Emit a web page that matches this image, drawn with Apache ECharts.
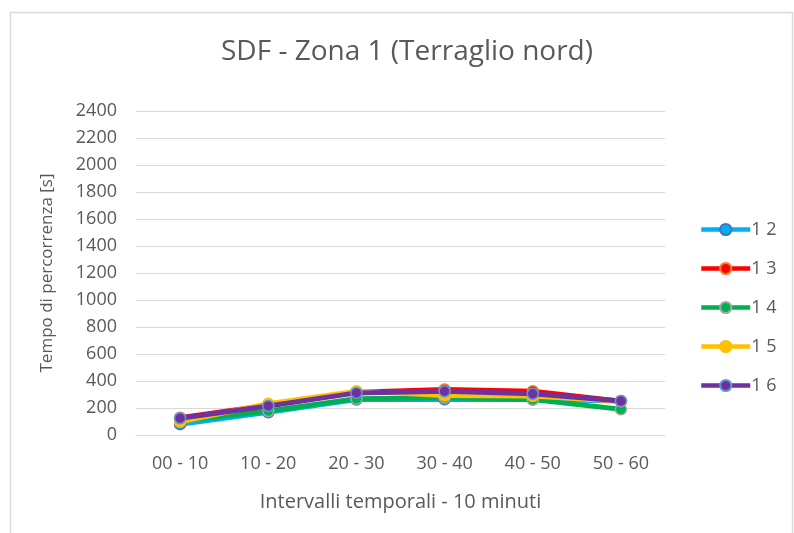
<!DOCTYPE html>
<html><head><meta charset="utf-8">
<script src="https://cdn.jsdelivr.net/npm/echarts@6/dist/echarts.min.js"></script>
<style>html,body{margin:0;padding:0;background:#fff}#c{width:794px;height:533px}</style>
</head><body><div id="c"></div>
<script>
const categories = ['00 - 10','10 - 20','20 - 30','30 - 40','40 - 50','50 - 60'];
const seriesNames = ['1 2','1 3','1 4','1 5','1 6'];
const s12 = [80, 168, 263, 265, 263, 252];
const s13 = [128, 220, 317, 337, 324, 250];
const s14 = [104, 178, 268, 276, 262, 190];
const s15 = [98, 232, 325, 293, 288, 250];
const s16 = [124, 215, 312, 324, 305, 251];
const yTicks = [0, 2400, 200];

const lineColors = ['#00B0F0', '#FF0000', '#00B050', '#FFC000', '#7030A0'];
const borderColors = ['#4472C4', '#ED7D31', '#A5A5A5', '#FFC000', '#5B9BD5'];
const data = [s12, s13, s14, s15, s16];
const font = '"Open Sans", "Liberation Sans", sans-serif';

const chart = echarts.init(document.getElementById('c'), null, {renderer: 'canvas'});
chart.setOption({
  animation: false,
  backgroundColor: '#fff',
  graphic: [{type: 'rect', left: 8, top: 10, shape: {width: 782, height: 522},
    style: {fill: 'none', stroke: '#D9D9D9', lineWidth: 1.5}, silent: true}],
  title: {text: 'SDF - Zona 1 (Terraglio nord)', left: 402, textAlign: 'center', top: 33,
    textStyle: {fontFamily: font, fontWeight: 'normal', fontSize: 28, color: '#595959'}},
  legend: {
    orient: 'vertical', left: 694, top: 212, itemGap: 14, itemWidth: 49, itemHeight: 14,
    lineStyle: {width: 4.5},
    textStyle: {fontFamily: font, fontSize: 18, lineHeight: 25, color: '#595959', padding: [0,0,0,-4]},
    data: seriesNames
  },
  grid: {left: 136, right: 129, top: 111, bottom: 98},
  xAxis: {
    type: 'category', data: categories, boundaryGap: true,
    name: 'Intervalli temporali - 10 minuti', nameLocation: 'middle', nameGap: 57,
    nameTextStyle: {fontFamily: font, fontSize: 20, color: '#595959'},
    axisLine: {show: true, lineStyle: {color: '#D9D9D9'}},
    axisTick: {show: false},
    axisLabel: {fontFamily: font, fontSize: 18, color: '#595959', margin: 20}
  },
  yAxis: {
    type: 'value', min: yTicks[0], max: yTicks[1], interval: yTicks[2],
    name: 'Tempo di percorrenza [s]', nameLocation: 'middle', nameGap: 80, nameRotate: 90,
    nameTextStyle: {fontFamily: font, fontSize: 17, color: '#595959'},
    axisLine: {show: false}, axisTick: {show: false},
    splitLine: {lineStyle: {color: '#D9D9D9', width: 1}},
    axisLabel: {fontFamily: font, fontSize: 18, color: '#595959', margin: 19,
      formatter: v => String(v)}
  },
  series: seriesNames.map((n, i) => ({
    name: n, type: 'line', data: data[i], z: 2 + i,
    symbol: 'circle', symbolSize: 11,
    lineStyle: {color: lineColors[i], width: 5},
    itemStyle: {color: lineColors[i], borderColor: borderColors[i], borderWidth: 1.5}
  }))
});
</script></body></html>
